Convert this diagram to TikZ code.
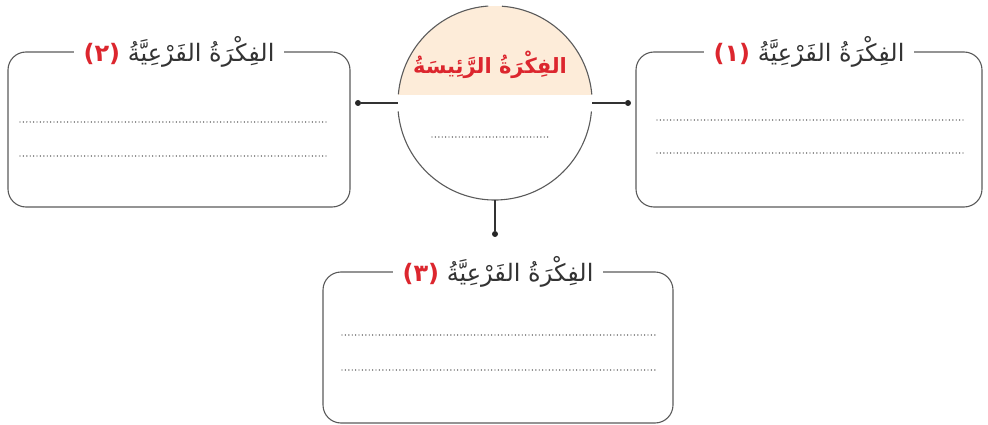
\documentclass[tikz,border=0pt]{standalone}
\usepackage{fontspec}
\newfontfamily\arabicfont[Script=Arabic]{DejaVu Sans}
\TeXXeTstate=1
\definecolor{ideared}{RGB}{220,38,46}
\definecolor{peach}{RGB}{253,236,217}
\definecolor{linegray}{RGB}{90,90,90}

\begin{document}
\begin{tikzpicture}[
        x=1pt, y=-1pt,
        ideabox/.style={rectangle, draw=linegray, line width=1.1pt, rounded corners=18pt, inner sep=0pt},
        boxtitle/.style={fill=white, inner xsep=10pt, inner ysep=1pt, text=black!80, font=\arabicfont\fontsize{24}{27}\selectfont},
        mainidea/.style={circle, inner sep=0pt, minimum size=194pt},
        dotline/.style={line width=1.4pt, line cap=round, dash pattern=on 0pt off 3.4pt, draw=black!75},
        dot/.style={circle, fill=black!85, inner sep=0pt, minimum size=6pt},
        link/.style={line width=1.1pt, draw=black!80}
    ]
    \useasboundingbox (0,0) rectangle (988,425);

    % main idea circle
    \node[mainidea] (main) at (495,103) {};
    \begin{scope}
        \clip (495,103) circle (97pt);
        \fill[peach] (390,0) rectangle (600,95);
    \end{scope}
    \draw[linegray, line width=1.1pt] (main.5) arc[start angle=5, end angle=86, radius=97pt];
    \draw[linegray, line width=1.1pt] (main.94) arc[start angle=94, end angle=175, radius=97pt];
    \draw[linegray, line width=1.1pt] (main.185) arc[start angle=185, end angle=355, radius=97pt];
    \node[text=ideared, font=\arabicfont\bfseries\fontsize{21}{24}\selectfont] (maintitle) at (490,65) {\beginR الفِكْرَةُ الرَّئِيسَةُ\endR};
    \draw[dotline] (432,137) -- (548,137);

    % sub ideas
    \node[ideabox, minimum width=342pt, minimum height=155pt] (box2) at (179,129.5) {};
    \node[ideabox, minimum width=346pt, minimum height=155pt] (box1) at (809,129.5) {};
    \node[ideabox, minimum width=350pt, minimum height=151pt] (box3) at (498,347.5) {};

    \node[boxtitle] (title2) at (box2.north) {\textcolor{ideared}{\bfseries(٢)} \beginR الفِكْرَةُ الفَرْعِيَّةُ\endR};
    \node[boxtitle] (title1) at (box1.north) {\textcolor{ideared}{\bfseries(١)} \beginR الفِكْرَةُ الفَرْعِيَّةُ\endR};
    \node[boxtitle] (title3) at (box3.north) {\textcolor{ideared}{\bfseries(٣)} \beginR الفِكْرَةُ الفَرْعِيَّةُ\endR};

    \foreach \y in {122,156} \draw[dotline] (20,\y) -- (328,\y);
    \foreach \y in {120,153} \draw[dotline] (657,\y) -- (965,\y);
    \foreach \y in {335,370} \draw[dotline] (342,\y) -- (655,\y);

    % connectors
    \node[dot] (end2) at (358,103) {};
    \node[dot] (end1) at (628,103) {};
    \node[dot] (end3) at (495,234) {};
    \draw[link] (main.west) -- (end2);
    \draw[link] (main.east) -- (end1);
    \draw[link] (main.south) -- (end3);
\end{tikzpicture}
\end{document}
